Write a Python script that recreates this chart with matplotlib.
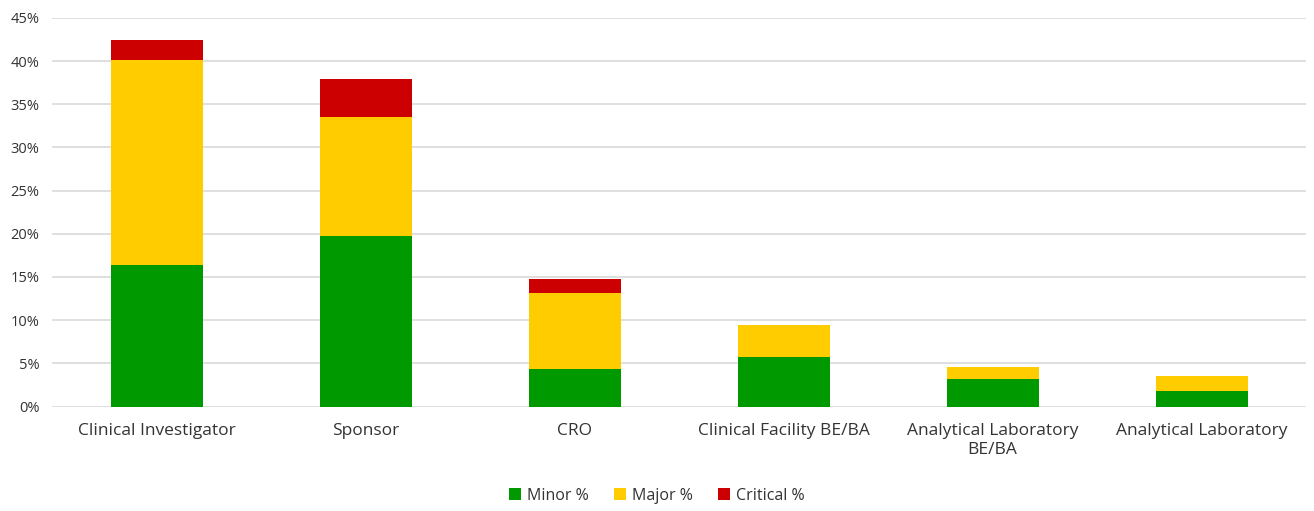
import matplotlib
matplotlib.use("Agg")
import matplotlib.pyplot as plt
from matplotlib.ticker import FuncFormatter, MultipleLocator

plt.rcParams['font.family'] = ['Open Sans', 'DejaVu Sans']

categories = ["Clinical Investigator", "Sponsor", "CRO", "Clinical Facility BE/BA",
              "Analytical Laboratory\nBE/BA", "Analytical Laboratory"]
minor = [16.4, 19.8, 4.4, 5.7, 3.2, 1.8]
major = [23.7, 13.75, 8.7, 3.7, 1.4, 1.7]
critical = [2.3, 4.4, 1.7, 0.0, 0.0, 0.0]

colors = {"Minor %": "#009900", "Major %": "#FFCC00", "Critical %": "#CC0000"}

fig = plt.figure(figsize=(13.14, 5.11), dpi=100)
ax = fig.add_axes([0.0396, 0.2045, 0.9544, 0.7603])

x = list(range(len(categories)))
width = 0.44
bottom2 = [a + b for a, b in zip(minor, major)]
ax.bar(x, minor, width, color=colors["Minor %"], label="Minor %", zorder=3)
ax.bar(x, major, width, bottom=minor, color=colors["Major %"], label="Major %", zorder=3)
ax.bar(x, critical, width, bottom=bottom2, color=colors["Critical %"], label="Critical %", zorder=3)

ax.set_xlim(-0.5, len(categories) - 0.5)
ax.set_ylim(0, 45)
ax.yaxis.set_major_locator(MultipleLocator(5))
ax.yaxis.set_major_formatter(FuncFormatter(lambda v, p: f"{v:.0f}%"))
ax.grid(axis='y', color='#d9d9d9', linewidth=1.2, zorder=0)
for s in ax.spines.values():
    s.set_visible(False)
ax.tick_params(axis='both', length=0, colors='#333333')
ax.tick_params(axis='y', labelsize=10.5, pad=9)
ax.tick_params(axis='x', labelsize=12.5, pad=12)
ax.set_xticks(x)
ax.set_xticklabels(categories, linespacing=1.2, va='top')

leg = fig.legend(loc='center', bbox_to_anchor=(0.5, 0.03), ncol=3, frameon=False,
                 fontsize=11.5, handlelength=0.7, handleheight=0.7,
                 handletextpad=0.4, columnspacing=1.6, labelcolor='#333333')

fig.savefig("out.png", dpi=100)
